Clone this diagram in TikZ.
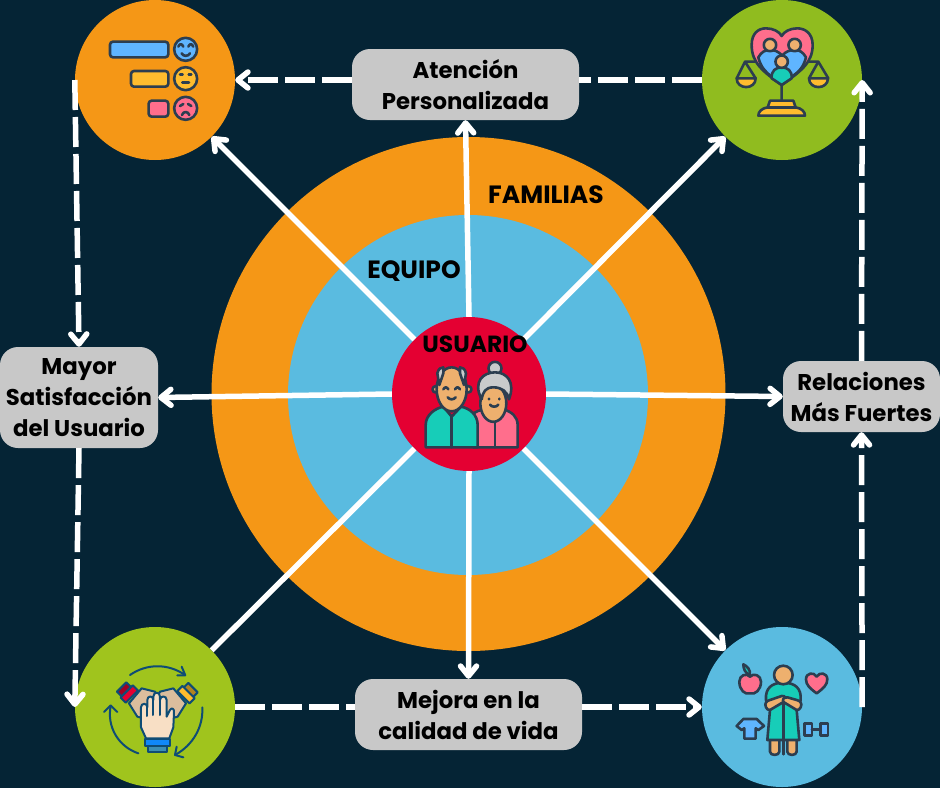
\documentclass[tikz,border=0pt]{standalone}
\usepackage{fontspec}
\setmainfont{Poppins}
\usetikzlibrary{arrows.meta}

\definecolor{nightbg}{HTML}{052435}
\definecolor{ringorange}{HTML}{F59716}
\definecolor{ringblue}{HTML}{5ABBE0}
\definecolor{corered}{HTML}{E40032}
\definecolor{greena}{HTML}{90BC1F}
\definecolor{greenb}{HTML}{A0C41D}
\definecolor{boxgray}{HTML}{C8C8C8}
\definecolor{ink}{HTML}{2C3E50}
\definecolor{inkb}{HTML}{0F4C75}
\definecolor{skyfill}{HTML}{5FB5FF}
\definecolor{sunfill}{HTML}{FFBC2E}
\definecolor{pinkfill}{HTML}{FF6E8C}
\definecolor{tealfill}{HTML}{17CDB8}
\definecolor{skinfill}{HTML}{EEB06E}
\definecolor{hairfill}{HTML}{C9CBCC}

\begin{document}
\begin{tikzpicture}[
  x=1pt,y=-1pt,
  disc/.style={circle,inner sep=0pt,minimum size=#1},
  infobox/.style={fill=boxgray,rounded corners=18pt,inner sep=0pt,align=center,
    font=\fontsize{22.8}{31}\selectfont\bfseries,text=black},
  ringlabel/.style={font=\fontsize{25}{28}\selectfont\bfseries,text=black,inner sep=0pt},
  flow/.style={draw=white,line width=5.5pt,-{Straight Barb[length=10pt,width=16pt,round]}},
  flowplain/.style={draw=white,line width=5.5pt},
  flowdash/.style={flow,dash pattern=on 30pt off 7pt},
  flowdashplain/.style={flowplain,dash pattern=on 30pt off 7pt},
  icon/.style={draw=ink,line width=2.6pt,line join=round,line cap=round},
  iconb/.style={draw=inkb,line width=2pt,line join=round,line cap=round},
  zoomed/.style={x=0.3333pt,y=-0.3333pt}
]

% background and rings
\fill[nightbg] (0,0) rectangle (940,788);
\node[disc=514pt,fill=ringorange] (familias) at (468.5,394) {};
\node[disc=360pt,fill=ringblue] (equipo) at (468,395) {};
\node[disc=154pt,fill=corered] (usuario) at (469,394) {};

% outer circles
\node[disc=160pt,fill=ringorange] (topleft) at (155,80) {};
\node[disc=160pt,fill=greena] (topright) at (782,80) {};
\node[disc=160pt,fill=greenb] (botleft) at (155,707) {};
\node[disc=160pt,fill=ringblue] (botright) at (782,707) {};

% grey boxes
\node[infobox,minimum width=227pt,minimum height=71pt] (atencion) at (465.5,84.5) {Atención\\Personalizada};
\node[infobox,minimum width=158pt,minimum height=101pt] (mayor) at (79,397.5) {Mayor\\Satisfacción\\del Usuario};
\node[infobox,minimum width=157pt,minimum height=71pt] (relaciones) at (861.5,396.5) {Relaciones\\Más Fuertes};
\node[infobox,minimum width=227pt,minimum height=71pt] (mejora) at (468.5,714.5) {Mejora en la\\calidad de vida};

% labels
\node[ringlabel] (lfamilias) at (546,195) {FAMILIAS};
\node[ringlabel] (lequipo) at (414,271) {EQUIPO};

% solid connectors
\path (usuario.90) edge[flow] (atencion.south)
(usuario.45) edge[flow] (topright.225)
(usuario.135) edge[flow] (topleft.315)
(usuario.180) edge[flow] (mayor.east)
(usuario.0) edge[flow] (relaciones.west)
(usuario.225) edge[flowplain] (botleft.45)
(usuario.315) edge[flow] (botright.135)
(usuario.270) edge[flow] (mejora.north);

% dashed loop
\path (topright.180) edge[flowdashplain] (atencion.east |- topright.180)
(atencion.west |- topleft.0) edge[flowdash] (topleft.0)
(topleft.180) edge[flowdash] (mayor.north)
(mayor.south) edge[flowdash] (botleft.180)
(botleft.0) edge[flowdashplain] (mejora.west |- botleft.0)
(mejora.east |- botright.180) edge[flowdash] (botright.180)
(botright.0) edge[flowdash] (relaciones.south)
(relaciones.north) edge[flowdash] (topright.0);

\node[ringlabel,font=\fontsize{23.4}{26}\selectfont\bfseries] (lusuario) at (475,344) {USUARIO};

% icon: rating bars
\begin{scope}[shift={(60,0)},zoomed]
\draw[icon,fill=skyfill,rounded corners=3pt] (150,125) rectangle (325,172);
\draw[icon,fill=sunfill,rounded corners=3pt] (213,213) rectangle (325,260);
\draw[icon,fill=pinkfill,rounded corners=3pt] (266,302) rectangle (325,350);
\draw[icon,fill=skyfill] (377,148) circle (11.5pt);
\draw[icon,fill=sunfill] (377,236) circle (11.5pt);
\draw[icon,fill=pinkfill] (377,325) circle (11.5pt);
\draw[icon] (355,140) .. controls (360,130) and (365,130) .. (370,140)
 (385,140) .. controls (390,130) and (395,130) .. (400,140)
 (365,160) .. controls (370,170) and (385,170) .. (390,160);
\draw[icon] (360,224) -- (368,224) (386,224) -- (394,224) (367,247) -- (387,247);
\draw[icon] (360,318) -- (370,312) (394,318) -- (384,312) (366,345) .. controls (370,333) and (384,333) .. (388,345);
\end{scope}

% icon: family on scales
\begin{scope}[shift={(690,0)},zoomed]
\draw[icon] (275,255) -- (275,305) (165,185) -- (205,185) (385,185) -- (345,185)
 (140,235) -- (165,185) -- (197,235) (357,235) -- (385,185) -- (415,235);
\draw[icon,fill=sunfill] (140,235) -- (197,235) .. controls (197,270) and (140,270) .. (140,235) -- cycle;
\draw[icon,fill=sunfill] (357,235) -- (414,235) .. controls (414,270) and (357,270) .. (357,235) -- cycle;
\draw[icon,fill=sunfill] (240,302) -- (310,302) -- (317,322) .. controls (335,325) and (345,335) .. (345,347) -- (205,347) .. controls (205,335) and (215,325) .. (233,322) -- cycle;
\draw[icon] (233,322) -- (317,322);
\draw[icon,fill=pinkfill] (275,255) .. controls (220,215) and (185,190) .. (185,135) .. controls (185,100) and (205,85) .. (228,85) .. controls (250,85) and (268,95) .. (275,108) .. controls (282,95) and (300,85) .. (322,85) .. controls (345,85) and (368,100) .. (368,135) .. controls (368,190) and (330,215) .. (275,255) -- cycle;
\draw[icon,fill=skyfill] (205,172) .. controls (215,155) and (225,150) .. (240,150) .. controls (255,150) and (265,155) .. (275,165) -- (275,250) -- (245,230) .. controls (225,215) and (212,200) .. (205,172) -- cycle;
\draw[icon,fill=skyfill] (348,172) .. controls (338,155) and (328,150) .. (314,150) .. controls (298,150) and (288,155) .. (278,165) -- (278,250) -- (305,230) .. controls (328,215) and (341,200) .. (348,172) -- cycle;
\draw[icon,fill=skinfill] (240,135) circle (6.2pt);
\draw[icon,fill=skinfill] (314,135) circle (6.2pt);
\draw[icon,fill=tealfill] (245,235) .. controls (243,212) and (258,202) .. (275,202) .. controls (292,202) and (307,212) .. (305,235) -- (275,255) -- cycle;
\draw[icon,fill=skinfill] (275,185) circle (6.2pt);
\end{scope}

% icon: elderly couple
\begin{scope}[shift={(385,310)},zoomed]
\draw[icon,fill=pinkfill] (265,412) -- (398,412) -- (398,345) .. controls (398,320) and (380,305) .. (355,298) -- (325,330) -- (300,298) .. controls (285,300) and (270,305) .. (265,312) -- cycle;
\draw[icon] (330,330) -- (330,412);
\draw[icon,fill=hairfill] (330,175) circle (6.5pt);
\draw[icon,fill=skinfill] (325,280) ellipse (13pt and 18.5pt);
\draw[icon,fill=hairfill] (290,268) .. controls (262,215) and (295,187) .. (330,187) .. controls (365,187) and (392,215) .. (372,268) .. controls (368,245) and (350,232) .. (325,232) .. controls (302,232) and (294,245) .. (290,268) -- cycle;
\draw[icon] (312,266) -- (312,268) (343,266) -- (343,268) (315,284) .. controls (320,292) and (335,292) .. (340,284);
\draw[icon,fill=tealfill] (122,412) -- (122,345) .. controls (122,315) and (150,295) .. (175,290) -- (200,320) -- (228,290) .. controls (255,295) and (278,315) .. (278,345) -- (278,412) -- cycle;
\draw[icon] (200,320) -- (200,412);
\draw[icon,fill=skinfill] (152,238) circle (3.2pt);
\draw[icon,fill=skinfill] (250,238) circle (3.2pt);
\draw[icon,fill=skinfill] (200,238) ellipse (15pt and 22pt);
\draw[icon,fill=hairfill] (163,225) -- (157,190) .. controls (160,176) and (168,172) .. (175,172) -- (175,190) -- cycle;
\draw[icon,fill=hairfill] (237,225) -- (243,190) .. controls (240,176) and (232,172) .. (225,172) -- (225,190) -- cycle;
\draw[icon] (175,238) .. controls (180,230) and (185,230) .. (190,238) (210,238) .. controls (215,230) and (220,230) .. (225,238) (188,262) .. controls (194,270) and (206,270) .. (212,262);
\end{scope}

% icon: joined hands
\begin{scope}[shift={(60,620)},zoomed]
\draw[iconb] (210,165) .. controls (260,130) and (325,130) .. (375,165);
\draw[iconb] (365,140) -- (376,166) -- (352,166);
\draw[iconb] (427,262) .. controls (430,320) and (400,375) .. (345,405);
\draw[iconb] (350,380) -- (345,405) -- (370,412);
\draw[iconb] (235,400) .. controls (175,380) and (140,320) .. (152,258);
\draw[iconb] (132,276) -- (152,256) -- (172,276);
\draw[iconb,fill=hairfill!50!skinfill] (207,250) -- (245,205) -- (285,215) -- (310,265) -- (270,300) -- (232,290) -- cycle;
\draw[iconb,fill=hairfill!50!skinfill] (378,250) -- (340,205) -- (300,215) -- (275,265) -- (315,300) -- (353,290) -- cycle;
\draw[iconb,fill=corered!70!black,rotate around={45:(192,208)}] (172,198) rectangle (212,218);
\draw[iconb,fill=corered,rotate around={45:(208,222)}] (182,211) rectangle (234,233);
\draw[iconb,fill=sunfill!70!black,rotate around={-45:(392,210)}] (372,200) rectangle (412,220);
\draw[iconb,fill=sunfill,rotate around={-45:(378,224)}] (352,213) rectangle (404,235);
\draw[iconb,fill=skinfill!40!white] (258,355) -- (243,322) -- (243,262) .. controls (243,248) and (262,248) .. (262,262) -- (262,240) .. controls (262,226) and (280,226) .. (280,240) -- (280,230) .. controls (280,214) and (300,214) .. (300,230) -- (300,240) .. controls (300,226) and (320,226) .. (320,240) -- (320,290) -- (330,270) .. controls (335,260) and (344,268) .. (342,278) -- (340,322) -- (328,355) -- cycle;
\draw[iconb] (262,262) -- (262,288) (280,240) -- (280,285) (300,240) -- (300,285);
\draw[iconb,fill=ringblue!60!inkb] (265,378) rectangle (320,397);
\draw[iconb,fill=ringblue!30!blue!60!cyan] (255,356) rectangle (330,378);
\end{scope}

% icon: wellbeing
\begin{scope}[shift={(690,620)},zoomed]
\draw[icon,fill=skinfill] (240,355) -- (240,395) .. controls (240,408) and (268,408) .. (268,395) -- (268,355) -- cycle;
\draw[icon,fill=skinfill] (292,355) -- (292,395) .. controls (292,408) and (320,408) .. (320,395) -- (320,355) -- cycle;
\draw[icon] (280,360) -- (280,403);
\draw[icon,fill=tealfill] (232,360) -- (240,270) -- (228,240) .. controls (225,205) and (245,188) .. (280,188) .. controls (315,188) and (335,205) .. (332,240) -- (320,270) -- (328,360) -- cycle;
\draw[icon] (280,240) -- (280,360);
\draw[icon,fill=skinfill] (280,165) circle (9.3pt);
\draw[icon,fill=skinfill] (228,262) .. controls (222,250) and (230,242) .. (240,240) -- (275,228) .. controls (285,225) and (292,238) .. (282,245) -- (240,270) .. controls (235,270) and (230,268) .. (228,262) -- cycle;
\draw[icon,fill=skinfill] (332,262) .. controls (338,250) and (330,242) .. (320,240) -- (292,232) .. controls (280,232) and (275,240) .. (282,247) -- (320,270) .. controls (325,270) and (330,268) .. (332,262) -- cycle;
\draw[icon,fill=pinkfill] (180,220) .. controls (165,225) and (148,210) .. (148,185) .. controls (148,165) and (170,158) .. (180,170) .. controls (190,158) and (213,165) .. (213,185) .. controls (213,210) and (195,225) .. (180,220) -- cycle;
\draw[icon,fill=tealfill] (180,165) .. controls (165,160) and (160,145) .. (160,133) .. controls (172,138) and (182,150) .. (180,165) -- cycle;
\draw[icon,fill=pinkfill] (380,220) .. controls (360,205) and (348,195) .. (348,178) .. controls (348,158) and (372,155) .. (380,170) .. controls (388,155) and (412,158) .. (412,178) .. controls (412,195) and (400,205) .. (380,220) -- cycle;
\draw[icon,fill=skyfill] (160,297) -- (200,297) -- (222,318) -- (205,330) -- (197,325) -- (197,356) -- (163,356) -- (163,325) -- (155,330) -- (140,318) -- cycle;
\draw[icon,fill=skyfill] (344,310) rectangle (366,346);
\draw[icon,fill=skyfill] (392,310) rectangle (414,346);
\draw[icon] (366,328) -- (392,328);
\end{scope}

\end{tikzpicture}
\end{document}
